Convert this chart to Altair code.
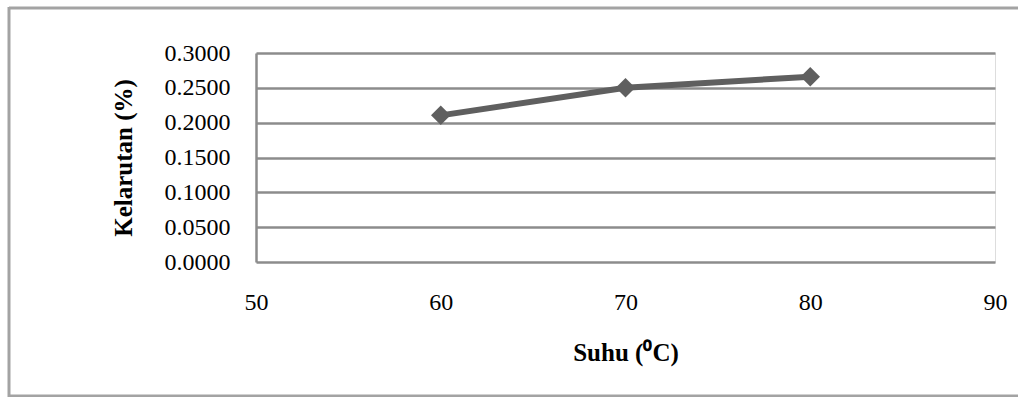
import altair as alt
import pandas as pd

suhu = [60, 70, 80]
kelarutan = [0.2105, 0.2500, 0.2660]
x_ticks = [50, 60, 70, 80, 90]
y_ticks = [0.0, 0.05, 0.10, 0.15, 0.20, 0.25, 0.30]

df = pd.DataFrame({"Suhu": suhu, "Kelarutan": kelarutan})

FONT = "Liberation Serif"
GREY = "#8c8c8c"
LINE = "#5f5f5f"
FRAME = "#a3a3a3"

x_enc = alt.X(
    "Suhu:Q",
    scale=alt.Scale(domain=[50, 90], nice=False, zero=False),
    axis=alt.Axis(
        values=x_ticks, title="Suhu (⁰C)", grid=False, domain=False, ticks=False,
        labelFont=FONT, labelFontSize=24, labelColor="black", labelPadding=28,
        labelOverlap=False, labelFlush=False,
        titleFont=FONT, titleFontSize=25, titleFontWeight="bold", titleColor="black",
        titlePadding=26,
    ),
)
y_enc = alt.Y(
    "Kelarutan:Q",
    scale=alt.Scale(domain=[0, 0.3], nice=False),
    axis=alt.Axis(
        values=y_ticks, format=".4f", title="Kelarutan (%)",
        grid=True, gridColor=GREY, gridWidth=2.5, gridOpacity=1,
        domain=True, domainColor=GREY, domainWidth=2.5, ticks=False,
        labelFont=FONT, labelFontSize=24, labelColor="black", labelPadding=26,
        labelOverlap=False, labelFlush=False,
        titleFont=FONT, titleFontSize=25, titleFontWeight="bold", titleColor="black",
        titlePadding=28,
    ),
)

one = pd.DataFrame({"a": [0]})
frame_top = alt.Chart(one).mark_rule(stroke=FRAME, strokeWidth=3).encode(
    x=alt.value(-247), x2=alt.value(800), y=alt.value(-45)
)
frame_left = alt.Chart(one).mark_rule(stroke=FRAME, strokeWidth=3).encode(
    x=alt.value(-247), y=alt.value(-46), y2=alt.value(400)
)
frame_bottom = alt.Chart(one).mark_rule(stroke=FRAME, strokeWidth=3).encode(
    x=alt.value(-247), x2=alt.value(800), y=alt.value(343)
)

base = alt.Chart(df).encode(x=x_enc, y=y_enc)
line = base.mark_line(color=LINE, strokeWidth=6)
pts = base.mark_point(shape="diamond", filled=True, color=LINE, size=380, opacity=1)

chart = alt.layer(frame_top, frame_left, frame_bottom, line, pts).properties(
    width=739, height=209,
    padding={"left": 256, "top": 53, "right": 23, "bottom": 135},
    autosize=alt.AutoSizeParams(type="none"),
).configure_view(stroke="transparent", strokeWidth=0).configure(background="white")

chart.save("out.html", embed_options={"renderer": "svg", "actions": False})
